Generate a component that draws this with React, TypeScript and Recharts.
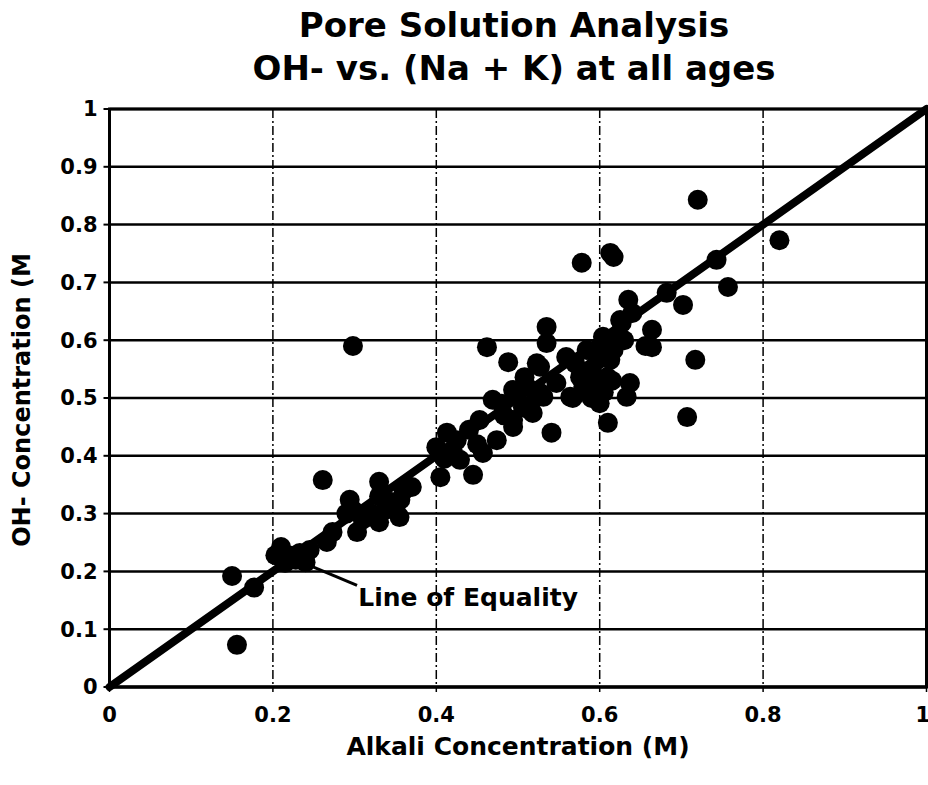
import React from 'react';
import {
  ScatterChart,
  Scatter,
  XAxis,
  YAxis,
  CartesianGrid,
  ReferenceLine,
  ReferenceArea,
  ReferenceDot,
} from 'recharts';

// Alkali (Na + K) concentration, M
const alkali = [
  0.15, 0.156, 0.177,
  0.203, 0.21, 0.215, 0.222, 0.233, 0.24, 0.245, 0.228, 0.212,
  0.261, 0.266, 0.273, 0.29, 0.294, 0.298, 0.303, 0.298,
  0.31, 0.32, 0.33, 0.33, 0.337, 0.33, 0.345, 0.356, 0.36, 0.37, 0.355, 0.35,
  0.413, 0.4, 0.405, 0.445, 0.453, 0.469, 0.474, 0.457, 0.429, 0.425, 0.42, 0.44, 0.41, 0.45, 0.462,
  0.488, 0.494, 0.494, 0.494, 0.508, 0.515, 0.518, 0.523, 0.523, 0.527, 0.527, 0.531, 0.511, 0.506,
  0.535, 0.535, 0.541, 0.483, 0.48,
  0.547, 0.559, 0.564, 0.567, 0.576, 0.584, 0.578, 0.597, 0.6, 0.604, 0.609, 0.61, 0.613, 0.617,
  0.613, 0.617, 0.625, 0.64, 0.59, 0.595, 0.605, 0.57, 0.585, 0.6, 0.62, 0.59, 0.58, 0.615,
  0.637, 0.633, 0.635, 0.627, 0.664, 0.664, 0.656, 0.682, 0.702, 0.707, 0.717, 0.72, 0.743, 0.757,
  0.82, 0.63,
];

// Hydroxide (OH-) concentration, M
const hydroxide = [
  0.192, 0.073, 0.172,
  0.228, 0.242, 0.215, 0.227, 0.232, 0.216, 0.237, 0.22, 0.222,
  0.358, 0.251, 0.268, 0.3, 0.324, 0.306, 0.268, 0.59,
  0.29, 0.3, 0.355, 0.33, 0.306, 0.285, 0.32, 0.324, 0.34, 0.346, 0.294, 0.31,
  0.44, 0.415, 0.363, 0.367, 0.462, 0.497, 0.427, 0.405, 0.393, 0.427, 0.41, 0.445, 0.395, 0.42, 0.588,
  0.562, 0.45, 0.514, 0.462, 0.536, 0.479, 0.474, 0.502, 0.56, 0.554, 0.509, 0.502, 0.519, 0.484,
  0.623, 0.595, 0.44, 0.47, 0.49,
  0.526, 0.571, 0.502, 0.5, 0.536, 0.583, 0.734, 0.566, 0.491, 0.606, 0.536, 0.457, 0.566, 0.583,
  0.751, 0.744, 0.635, 0.647, 0.55, 0.52, 0.51, 0.56, 0.54, 0.58, 0.6, 0.5, 0.52, 0.53,
  0.526, 0.502, 0.67, 0.63, 0.618, 0.588, 0.59, 0.682, 0.661, 0.467, 0.566, 0.843, 0.739, 0.692,
  0.773, 0.6,
];

const xTicks = [0, 0.2, 0.4, 0.6, 0.8, 1];
const yTicks = [0, 0.1, 0.2, 0.3, 0.4, 0.5, 0.6, 0.7, 0.8, 0.9, 1];

const equalityLine = [
  { x: 0, y: 0 },
  { x: 1, y: 1 },
];
const pointerLine = [
  { x: 0.249, y: 0.208 },
  { x: 0.303, y: 0.176 },
];
const pointerLabel = { x: 0.302, y: 0.155, text: 'Line of Equality' };

const samples = alkali.map((x, i) => ({ x, y: hydroxide[i] }));

const FONT = '"DejaVu Sans", "Liberation Sans", Arial, sans-serif';

const tickStyle = {
  fill: '#000',
  fontSize: 21,
  fontWeight: 700,
  fontFamily: FONT,
};

const Dot = (props: any) => {
  const { cx, cy } = props;
  if (cx == null || cy == null) return null;
  return <circle cx={cx} cy={cy} r={10} fill="#000" />;
};

const titleStyle: React.CSSProperties = {
  position: 'absolute',
  left: 0,
  width: 1028,
  textAlign: 'center',
  fontSize: 34,
  lineHeight: '34px',
  fontWeight: 700,
  color: '#000',
  whiteSpace: 'nowrap',
};

export default function App() {
  return (
    <div
      style={{
        position: 'absolute',
        left: 0,
        top: 0,
        width: 928,
        height: 785,
        background: '#fff',
        overflow: 'hidden',
        fontFamily: FONT,
      }}
    >
      <div style={{ ...titleStyle, top: 8 }}>Pore Solution Analysis</div>
      <div style={{ ...titleStyle, top: 51 }}>OH- vs. (Na + K) at all ages</div>

      <ScatterChart
        width={928}
        height={785}
        margin={{ top: 109, right: 1.5, bottom: 68, left: 49.5 }}
      >
        <CartesianGrid horizontal vertical={false} stroke="#000" strokeWidth={2.5} />
        <CartesianGrid
          horizontal={false}
          vertical
          stroke="#000"
          strokeWidth={1.5}
          strokeDasharray="9 3 2 3"
        />
        <XAxis
          type="number"
          dataKey="x"
          domain={[0, 1]}
          ticks={xTicks}
          height={30}
          tick={tickStyle}
          tickSize={5}
          tickMargin={15}
          axisLine={{ stroke: '#000', strokeWidth: 3 }}
          tickLine={{ stroke: '#000', strokeWidth: 1.5 }}
          allowDataOverflow
        />
        <YAxis
          type="number"
          dataKey="y"
          domain={[0, 1]}
          ticks={yTicks}
          width={60}
          tick={tickStyle}
          tickSize={6}
          tickMargin={6}
          axisLine={{ stroke: '#000', strokeWidth: 3 }}
          tickLine={{ stroke: '#000', strokeWidth: 2 }}
          allowDataOverflow
        />
        <ReferenceArea
          x1={0}
          x2={1}
          y1={0}
          y2={1}
          fill="none"
          stroke="#000"
          strokeWidth={3}
          ifOverflow="visible"
        />
        <Scatter data={samples} fill="#000" shape={Dot} isAnimationActive={false} />
        <ReferenceLine
          segment={equalityLine}
          stroke="#000"
          strokeWidth={8}
          strokeLinecap="round"
          ifOverflow="visible"
        />
        <ReferenceLine
          segment={pointerLine}
          stroke="#000"
          strokeWidth={3}
          ifOverflow="visible"
        />
        <ReferenceDot
          x={pointerLabel.x}
          y={pointerLabel.y}
          r={0}
          fill="none"
          stroke="none"
          ifOverflow="visible"
          label={{
            value: pointerLabel.text,
            position: 'right',
            offset: 2,
            fill: '#000',
            fontSize: 25,
            fontWeight: 700,
            fontFamily: FONT,
          }}
        />
      </ScatterChart>

      <div
        style={{
          position: 'absolute',
          left: 109.5,
          width: 817,
          top: 734,
          textAlign: 'center',
          fontSize: 25,
          lineHeight: '25px',
          fontWeight: 700,
          color: '#000',
          whiteSpace: 'nowrap',
        }}
      >
        Alkali Concentration (M)
      </div>
      <div
        style={{
          position: 'absolute',
          left: 22 - 200,
          top: 400 - 12,
          width: 400,
          textAlign: 'center',
          fontSize: 24,
          lineHeight: '24px',
          fontWeight: 700,
          color: '#000',
          whiteSpace: 'nowrap',
          transform: 'rotate(-90deg)',
          transformOrigin: '50% 50%',
        }}
      >
        OH- Concentration (M
      </div>
    </div>
  );
}
